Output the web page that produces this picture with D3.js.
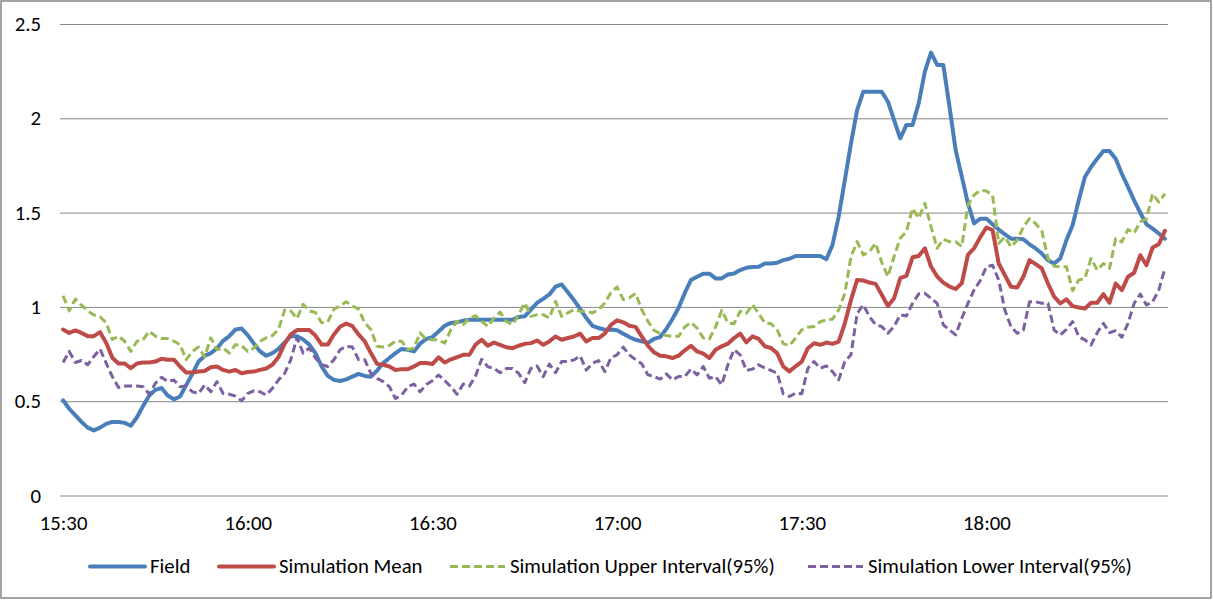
<!DOCTYPE html>
<html><head><meta charset="utf-8">
<script src="https://cdn.jsdelivr.net/npm/d3@7"></script>
<style>body{margin:0;background:#fff}svg{display:block}</style>
</head><body>
<svg id="c" width="1213" height="600"></svg>
<script>
// Categories: one per minute from 15:30 to 18:29
const startMinutes = 15 * 60 + 30;
const categoryCount = 180;
const categories = d3.range(categoryCount).map(k => {
  const m = startMinutes + k;
  return Math.floor(m / 60) + ":" + String(m % 60).padStart(2, "0");
});
const xTickLabels = ["15:30", "16:00", "16:30", "17:00", "17:30", "18:00"];
const yTickValues = [0, 0.5, 1, 1.5, 2, 2.5];
const yTickLabels = ["0", "0.5", "1", "1.5", "2", "2.5"];
const seriesNames = ["Field", "Simulation Mean", "Simulation Upper Interval(95%)", "Simulation Lower Interval(95%)"];

const field = [
0.505,0.46,0.425,0.39,0.36,0.345,0.36,0.38,0.39,0.39,
0.385,0.37,0.415,0.475,0.53,0.56,0.57,0.53,0.51,0.525,
0.585,0.645,0.71,0.74,0.755,0.78,0.82,0.845,0.88,0.885,
0.85,0.805,0.764,0.741,0.755,0.777,0.812,0.845,0.845,0.827,
0.8,0.755,0.684,0.634,0.613,0.607,0.616,0.63,0.645,0.634,
0.63,0.662,0.702,0.729,0.755,0.777,0.773,0.764,0.805,0.83,
0.84,0.87,0.9,0.915,0.918,0.927,0.932,0.932,0.932,0.932,
0.932,0.932,0.932,0.932,0.947,0.95,0.986,1.021,1.043,1.066,
1.107,1.119,1.078,1.036,0.989,0.941,0.9,0.888,0.879,0.88,
0.876,0.858,0.84,0.826,0.817,0.809,0.83,0.84,0.883,0.936,
0.995,1.074,1.142,1.16,1.176,1.176,1.151,1.151,1.172,1.177,
1.195,1.207,1.211,1.213,1.23,1.23,1.234,1.248,1.255,1.27,
1.27,1.27,1.27,1.27,1.253,1.329,1.479,1.673,1.867,2.044,
2.141,2.141,2.141,2.141,2.088,1.991,1.894,1.965,1.965,2.08,
2.247,2.348,2.283,2.283,2.062,1.832,1.691,1.549,1.443,1.468,
1.468,1.438,1.41,1.385,1.362,1.362,1.359,1.332,1.31,1.283,
1.248,1.23,1.257,1.354,1.433,1.565,1.689,1.742,1.786,1.826,
1.826,1.786,1.706,1.636,1.565,1.498,1.438,1.415,1.389,1.361];

const simMean = [
0.88,0.862,0.875,0.862,0.845,0.845,0.866,0.81,0.73,0.70,
0.70,0.675,0.70,0.705,0.705,0.71,0.725,0.72,0.72,0.684,
0.652,0.652,0.657,0.66,0.68,0.684,0.666,0.657,0.666,0.648,
0.655,0.657,0.666,0.673,0.693,0.734,0.805,0.854,0.877,0.877,
0.877,0.848,0.8,0.8,0.854,0.895,0.912,0.898,0.854,0.818,
0.755,0.698,0.693,0.684,0.666,0.67,0.67,0.684,0.702,0.703,
0.697,0.733,0.705,0.722,0.733,0.746,0.746,0.799,0.826,0.794,
0.811,0.799,0.786,0.781,0.794,0.804,0.808,0.822,0.799,0.817,
0.843,0.826,0.835,0.843,0.858,0.817,0.835,0.835,0.858,0.905,
0.929,0.918,0.9,0.894,0.844,0.794,0.759,0.741,0.738,0.729,
0.741,0.77,0.794,0.764,0.752,0.729,0.773,0.791,0.805,0.835,
0.858,0.812,0.844,0.83,0.791,0.782,0.755,0.684,0.658,0.685,
0.71,0.781,0.807,0.799,0.811,0.804,0.816,0.913,1.037,1.143,
1.14,1.129,1.122,1.064,1.005,1.046,1.152,1.164,1.263,1.27,
1.311,1.214,1.161,1.129,1.108,1.095,1.125,1.276,1.311,1.37,
1.421,1.407,1.23,1.168,1.107,1.103,1.16,1.248,1.227,1.204,
1.124,1.054,1.019,1.04,1.004,0.997,0.992,1.022,1.022,1.068,
1.022,1.124,1.089,1.16,1.181,1.274,1.221,1.315,1.332,1.403];

const simUpper = [
1.059,0.979,1.041,1.009,0.979,0.957,0.948,0.916,0.827,0.845,
0.818,0.764,0.818,0.827,0.871,0.845,0.832,0.832,0.818,0.8,
0.72,0.764,0.787,0.734,0.836,0.773,0.782,0.755,0.8,0.795,
0.764,0.782,0.818,0.836,0.848,0.88,0.984,0.979,0.938,1.014,
0.979,0.97,0.916,0.92,0.988,1.005,1.027,1.005,0.988,0.916,
0.88,0.791,0.787,0.795,0.818,0.818,0.773,0.782,0.862,0.828,
0.826,0.826,0.808,0.879,0.923,0.906,0.941,0.954,0.923,0.897,
0.941,0.972,0.923,0.906,0.959,1.021,0.95,0.959,0.959,0.941,
1.03,0.95,0.968,0.986,0.977,0.977,0.968,0.986,1.021,1.075,
1.106,1.039,1.048,1.071,0.986,0.924,0.876,0.858,0.848,0.844,
0.844,0.894,0.918,0.888,0.835,0.83,0.894,0.982,0.915,0.911,
0.977,0.965,1.012,0.965,0.915,0.911,0.879,0.805,0.794,0.835,
0.878,0.892,0.896,0.922,0.931,0.935,0.984,1.072,1.267,1.346,
1.276,1.293,1.337,1.235,1.161,1.267,1.364,1.399,1.523,1.47,
1.549,1.426,1.311,1.359,1.346,1.346,1.32,1.541,1.594,1.618,
1.615,1.592,1.336,1.371,1.318,1.354,1.424,1.468,1.442,1.403,
1.257,1.216,1.213,1.213,1.086,1.142,1.151,1.257,1.195,1.23,
1.204,1.362,1.345,1.41,1.392,1.451,1.468,1.6,1.556,1.6];

const simLower = [
0.705,0.764,0.705,0.716,0.693,0.737,0.777,0.702,0.63,0.573,
0.58,0.58,0.58,0.577,0.537,0.595,0.627,0.604,0.613,0.577,
0.58,0.55,0.541,0.586,0.55,0.604,0.541,0.537,0.527,0.502,
0.541,0.555,0.55,0.532,0.568,0.613,0.648,0.72,0.836,0.755,
0.782,0.729,0.693,0.684,0.72,0.773,0.791,0.787,0.72,0.72,
0.648,0.621,0.604,0.577,0.514,0.532,0.577,0.591,0.55,0.588,
0.609,0.639,0.609,0.577,0.537,0.591,0.58,0.633,0.722,0.683,
0.674,0.651,0.674,0.674,0.648,0.598,0.674,0.687,0.63,0.697,
0.651,0.71,0.71,0.719,0.74,0.665,0.701,0.715,0.657,0.73,
0.746,0.787,0.746,0.72,0.699,0.64,0.631,0.617,0.645,0.613,
0.631,0.631,0.67,0.64,0.684,0.622,0.631,0.587,0.693,0.773,
0.746,0.663,0.67,0.693,0.676,0.663,0.649,0.539,0.525,0.543,
0.539,0.675,0.71,0.675,0.687,0.657,0.613,0.71,0.746,0.966,
1.011,0.949,0.905,0.896,0.86,0.896,0.958,0.952,1.019,1.069,
1.072,1.046,1.019,0.905,0.878,0.852,0.94,1.019,1.09,1.14,
1.213,1.221,1.142,0.983,0.895,0.86,0.877,1.027,1.027,1.019,
1.019,0.877,0.851,0.881,0.922,0.843,0.825,0.798,0.863,0.913,
0.863,0.874,0.839,0.913,1.019,1.068,1.01,1.027,1.089,1.204];

const seriesData = [field, simMean, simUpper, simLower];
const seriesColors = ["#4A7EBB", "#BE4B48", "#98B954", "#7D60A0"];
const seriesDash = [null, null, "8,4", "8,4"];
const seriesWidth = [4, 4, 3, 3];

// ---- drawing ----
const svg = d3.select("#c");
const FF = "Carlito, Calibri, Lato, 'Open Sans', sans-serif";
const plot = { left: 60, right: 1168, top: 24, bottom: 495.5 };

svg.append("rect").attr("x", 1).attr("y", 1).attr("width", 1210).attr("height", 597)
  .attr("fill", "#fff").attr("stroke", "#868686").attr("stroke-width", 1.5);

// calibrate font size so the legend text width matches the reference (~265px)
const probe = svg.append("text").attr("font-family", FF).attr("font-size", 20).text(seriesNames[2]);
const probeLen = probe.node().getComputedTextLength() || 265;
probe.remove();
const FS = 20 * 265 / probeLen;

const x = d3.scalePoint().domain(categories).range([plot.left, plot.right]).padding(0.5);
const y = d3.scaleLinear().domain([0, 2.5]).range([plot.bottom, plot.top]);

// y axis with gridlines
const yAxis = svg.append("g").attr("transform", `translate(${plot.left},0)`)
  .call(d3.axisLeft(y).tickValues(yTickValues)
    .tickFormat((d, i) => yTickLabels[i])
    .tickSize(-(plot.right - plot.left)).tickPadding(19));
yAxis.select(".domain").remove();
yAxis.selectAll(".tick line").attr("stroke", "#868686").attr("stroke-width", 1);
yAxis.selectAll(".tick text").attr("font-family", FF).attr("font-size", FS).attr("fill", "#000");

// x axis labels (no tick marks)
const xAxis = svg.append("g").attr("transform", `translate(0,${plot.bottom})`)
  .call(d3.axisBottom(x).tickValues(xTickLabels).tickSize(0).tickPadding(34.5 - 0.71 * FS));
xAxis.select(".domain").remove();
xAxis.selectAll(".tick text").attr("font-family", FF).attr("font-size", FS).attr("fill", "#000");

// series lines
const line = d3.line().x((d, i) => x(categories[i])).y(d => y(d));
seriesData.forEach((vals, s) => {
  svg.append("path").datum(vals)
    .attr("fill", "none")
    .attr("stroke", seriesColors[s])
    .attr("stroke-width", seriesWidth[s])
    .attr("stroke-linejoin", "round")
    .attr("stroke-linecap", seriesDash[s] ? "butt" : "round")
    .attr("stroke-dasharray", seriesDash[s])
    .attr("d", line);
});

// legend (entry start positions as in the reference layout)
const legendY = 566.5;
const legendStarts = [90, 219, 450, 808];
seriesNames.forEach((name, s) => {
  const lx = legendStarts[s];
  const g = svg.append("g");
  g.append("line").attr("x1", lx).attr("x2", lx + 55).attr("y1", legendY).attr("y2", legendY)
    .attr("stroke", seriesColors[s]).attr("stroke-width", seriesWidth[s])
    .attr("stroke-linecap", seriesDash[s] ? "butt" : "round")
    .attr("stroke-dasharray", seriesDash[s]);
  g.append("text").attr("x", lx + 60).attr("y", legendY + 6.5)
    .attr("font-family", FF).attr("font-size", FS).attr("fill", "#000").text(name);
});
</script>
</body></html>
